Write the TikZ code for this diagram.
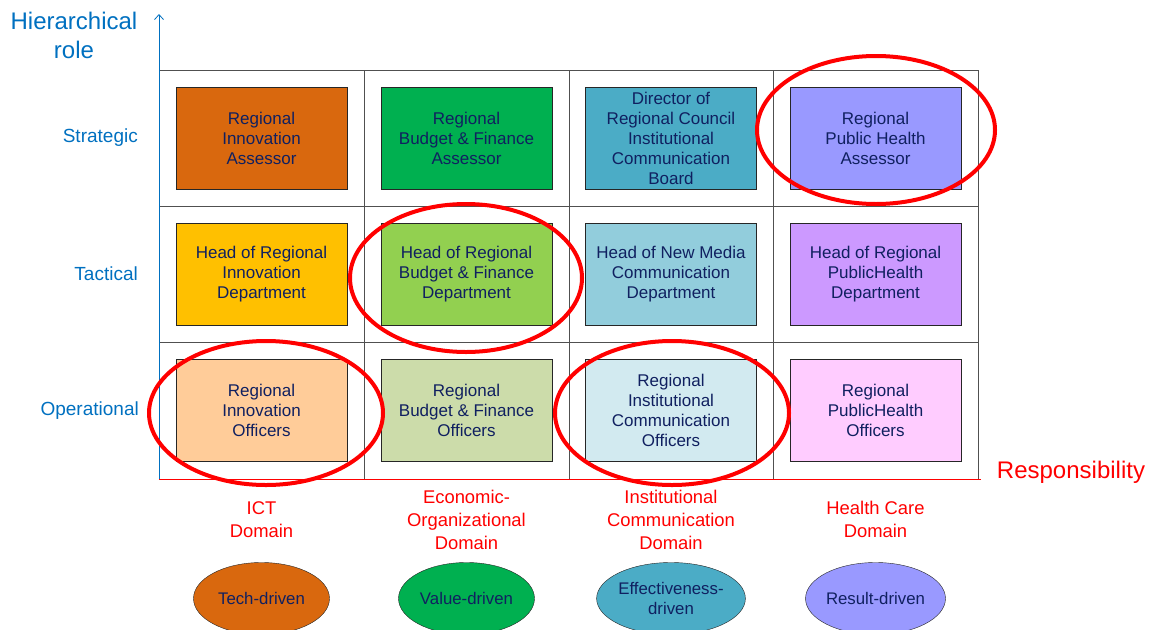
\documentclass[tikz,border=0pt]{standalone}
\usepackage{fontspec}
\setmainfont{Liberation Sans}
\usepackage{tikz}
\usetikzlibrary{shapes,arrows,arrows.meta,positioning}

\definecolor{rolblue}{RGB}{0,112,192}
\definecolor{navy}{RGB}{16,32,96}
\definecolor{gridgray}{RGB}{80,80,80}
\definecolor{ictS}{RGB}{217,104,14}
\definecolor{ictT}{RGB}{255,192,0}
\definecolor{ictO}{RGB}{255,204,153}
\definecolor{ecoS}{RGB}{0,176,80}
\definecolor{ecoT}{RGB}{146,208,80}
\definecolor{ecoO}{RGB}{204,220,170}
\definecolor{insS}{RGB}{75,172,198}
\definecolor{insT}{RGB}{146,205,220}
\definecolor{insO}{RGB}{210,234,240}
\definecolor{heaS}{RGB}{153,153,255}
\definecolor{heaT}{RGB}{204,153,255}
\definecolor{heaO}{RGB}{255,204,255}

\begin{document}
\begin{tikzpicture}[x=1pt,y=-1pt]
\useasboundingbox (0,0) rectangle (1150,629);

\tikzstyle{post}=[rectangle,draw=black!85,thin,minimum width=171pt,minimum height=102pt,inner sep=1pt,align=center,text=navy,font=\fontsize{17}{20}\selectfont]
\tikzstyle{rolelabel}=[anchor=east,inner sep=0pt,text=rolblue,font=\fontsize{19}{21}\selectfont]
\tikzstyle{domlabel}=[align=center,text=red,font=\fontsize{18.4}{23}\selectfont]
\tikzstyle{drive}=[ellipse,draw=black!85,thin,minimum width=136pt,minimum height=72pt,inner sep=0pt,align=center,text=navy,font=\fontsize{16.8}{20}\selectfont]
\tikzstyle{hilite}=[draw=red,line width=4pt]

% grid
\draw[gridgray] (159,70)--(978,70)--(978,479);
\draw[gridgray] (364,70)--(364,479);
\draw[gridgray] (569,70)--(569,479);
\draw[gridgray] (773,70)--(773,479);
\draw[gridgray] (159,206)--(978,206);
\draw[gridgray] (159,342)--(978,342);

% axes
\coordinate (orig) at (159,479);
\coordinate (ytop) at (159,14);
\coordinate (xend) at (981,479);
\draw[-{Straight Barb[length=5pt,width=9pt]},rolblue,line width=0.8pt] (orig)--(ytop);
\draw[red] (orig)--(xend);

\node (yaxis) at (74,35) [align=center,text=rolblue,font=\fontsize{24}{29}\selectfont] {Hierarchical\\role};
\node (xaxis) at (1071,472) [text=red,font=\fontsize{24}{26}\selectfont] {Responsibility};

% strategic
\node (sICT) at (261.5,138) [post,fill=ictS] {Regional\\Innovation\\Assessor};
\node (sECO) at (466.5,138) [post,fill=ecoS] {Regional\\Budget \& Finance\\Assessor};
\node (sINS) at (671,138) [post,fill=insS] {Director of\\Regional Council\\Institutional\\Communication\\Board};
\node (sHEA) at (875.5,138) [post,fill=heaS] {Regional\\Public Health\\Assessor};

% tactical
\node (tICT) at (261.5,274) [post,fill=ictT] {Head of Regional\\Innovation\\Department};
\node (tECO) at (466.5,274) [post,fill=ecoT] {Head of Regional\\Budget \& Finance\\Department};
\node (tINS) at (671,274) [post,fill=insT] {Head of New Media\\Communication\\Department};
\node (tHEA) at (875.5,274) [post,fill=heaT] {Head of Regional\\PublicHealth\\Department};

% operational
\node (oICT) at (261.5,410.5) [post,fill=ictO] {Regional\\Innovation\\Officers};
\node (oECO) at (466.5,410.5) [post,fill=ecoO] {Regional\\Budget \& Finance\\Officers};
\node (oINS) at (671,410.5) [post,fill=insO] {Regional\\Institutional\\Communication\\Officers};
\node (oHEA) at (875.5,410.5) [post,fill=heaO] {Regional\\PublicHealth\\Officers};

\node (lS) at (138,138) [rolelabel] {Strategic};
\node (lT) at (138,274) [rolelabel] {Tactical};
\node (lO) at (139,410.5) [rolelabel] {Operational};

% domains
\node (dICT) [domlabel,node distance=109pt,below of=oICT] {ICT\\Domain};
\node (dECO) [domlabel,node distance=109pt,below of=oECO] {Economic-\\Organizational\\Domain};
\node (dINS) [domlabel,node distance=109pt,below of=oINS] {Institutional\\Communication\\Domain};
\node (dHEA) [domlabel,node distance=109pt,below of=oHEA] {Health Care\\Domain};

\node (eICT) [drive,fill=ictS,node distance=79pt,below of=dICT] {Tech-driven};
\node (eECO) [drive,fill=ecoS,node distance=79pt,below of=dECO] {Value-driven};
\node (eINS) [drive,fill=insS,node distance=79pt,below of=dINS] {Effectiveness-\\driven};
\node (eHEA) [drive,fill=heaS,node distance=79pt,below of=dHEA] {Result-driven};

% highlighted
\draw[hilite] (876,130) ellipse (119pt and 74pt);
\draw[hilite] (466,278) ellipse (116pt and 74pt);
\draw[hilite] (266,413) ellipse (117pt and 72pt);
\draw[hilite] (672,413) ellipse (117pt and 72pt);

\end{tikzpicture}
\end{document}
